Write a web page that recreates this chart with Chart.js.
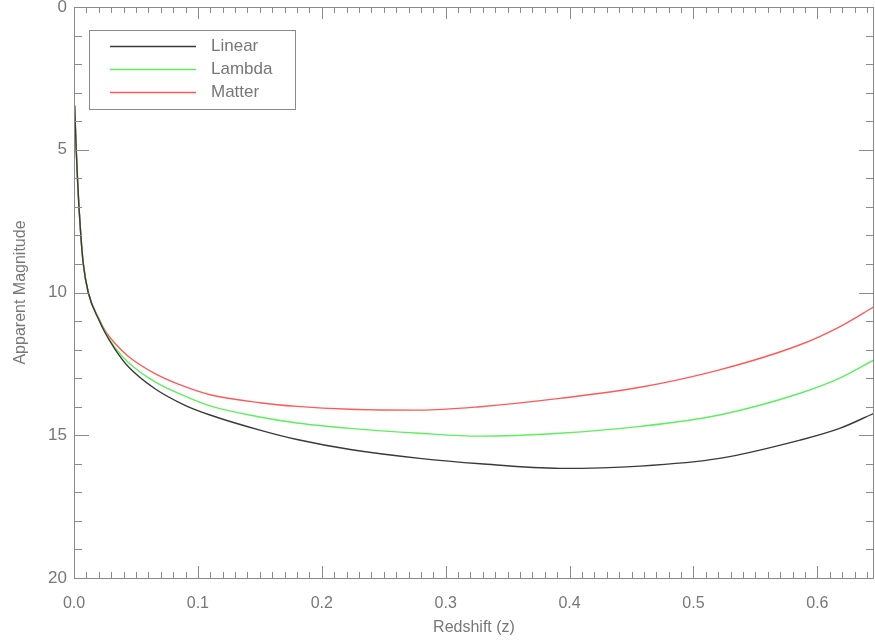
<!DOCTYPE html>
<html>
<head>
<meta charset="utf-8">
<title>Apparent Magnitude vs Redshift</title>
<script src="https://cdn.jsdelivr.net/npm/chart.js@4.4.1/dist/chart.umd.min.js"></script>
<style>
  html, body { margin: 0; padding: 0; background: #ffffff; }
  #wrap { width: 875px; height: 643px; }
</style>
</head>
<body>
<div id="wrap"><canvas id="magChart" width="875" height="643"></canvas></div>
<script>
// data
const redshift = [0.0005, 0.0018, 0.0028, 0.004, 0.0055, 0.0075, 0.0115, 0.0205, 0.025, 0.033,
                  0.0439, 0.0654, 0.0896, 0.1098, 0.150, 0.180, 0.223, 0.279, 0.328, 0.392,
                  0.457, 0.521, 0.586, 0.618, 0.6457];
const linearMag = [3.45, 5.0, 6.0, 7.0, 8.0, 9.0, 10.0, 11.0, 11.4, 11.98,
                   12.6, 13.37, 13.95, 14.29, 14.82, 15.15, 15.5, 15.81, 16.0, 16.16,
                   16.08, 15.81, 15.17, 14.76, 14.23];
const lambdaMag = [3.45, 5.0, 6.0, 7.0, 8.0, 9.0, 10.0, 10.98, 11.37, 11.92,
                   12.45, 13.13, 13.63, 13.97, 14.36, 14.57, 14.76, 14.93, 15.03, 14.93,
                   14.69, 14.29, 13.53, 13.0, 12.36];
const matterMag = [3.45, 5.0, 6.0, 7.0, 8.0, 9.0, 10.0, 10.95, 11.33, 11.78,
                   12.24, 12.84, 13.3, 13.58, 13.86, 13.99, 14.09, 14.12, 14.0, 13.71,
                   13.32, 12.71, 11.83, 11.2, 10.5];
const seriesNames = ['Linear', 'Lambda', 'Matter'];
const xTicks = [0.0, 0.1, 0.2, 0.3, 0.4, 0.5, 0.6];
const yTicks = [0, 5, 10, 15, 20];

const axisColor = '#8a8a8a';
const textColor = '#777777';
const fontFamily = "'Liberation Sans', 'DejaVu Sans', sans-serif";
const lineColors = ['#3a3a3a', '#5cf05c', '#ff5a5a'];

function toPoints(ys) {
    return redshift.map((z, i) => ({ x: z, y: ys[i] }));
}

// IDL style frame: box round the plot with ticks pointing inward
const insideTicks = {
    id: 'insideTicks',
    afterDraw(chart) {
        const { ctx, chartArea: a, scales: { x, y } } = chart;
        ctx.save();
        ctx.strokeStyle = axisColor;
        ctx.lineWidth = 1;
        ctx.strokeRect(a.left + 0.5, a.top + 0.5, a.right - a.left - 1, a.bottom - a.top);

        ctx.beginPath();
        // x minor every 0.01, major every 0.1
        for (let i = 0; i <= 64; i++) {
            const px = Math.round(x.getPixelForValue(i / 100)) + 0.5;
            const len = i % 10 === 0 ? 12 : 6;
            ctx.moveTo(px, a.bottom); ctx.lineTo(px, a.bottom - len);
            ctx.moveTo(px, a.top); ctx.lineTo(px, a.top + len);
        }
        // y minor every 1, major every 5
        for (let j = 0; j <= 20; j++) {
            const py = Math.round(y.getPixelForValue(j)) + 0.5;
            const len = j % 5 === 0 ? 15 : 8;
            ctx.moveTo(a.left, py); ctx.lineTo(a.left + len, py);
            ctx.moveTo(a.right, py); ctx.lineTo(a.right - len, py);
        }
        ctx.stroke();
        ctx.restore();
    }
};

// legend box in the top-left corner of the plot
const boxLegend = {
    id: 'boxLegend',
    afterDraw(chart) {
        const ctx = chart.ctx;
        ctx.save();
        ctx.fillStyle = '#ffffff';
        ctx.fillRect(89, 30, 206, 79);
        ctx.strokeStyle = axisColor;
        ctx.lineWidth = 1;
        ctx.strokeRect(89.5, 30.5, 206, 79);
        ctx.font = '17px ' + fontFamily;
        ctx.textBaseline = 'middle';
        chart.data.datasets.forEach((ds, i) => {
            const yy = 46.5 + i * 23;
            ctx.strokeStyle = ds.borderColor;
            ctx.lineWidth = 1.3;
            ctx.beginPath();
            ctx.moveTo(110, yy);
            ctx.lineTo(196, yy);
            ctx.stroke();
            ctx.fillStyle = textColor;
            ctx.fillText(ds.label, 211, yy);
        });
        ctx.restore();
    }
};

new Chart(document.getElementById('magChart'), {
    type: 'line',
    data: {
        datasets: [
            { label: seriesNames[0], data: toPoints(linearMag), borderColor: lineColors[0] },
            { label: seriesNames[1], data: toPoints(lambdaMag), borderColor: lineColors[1] },
            { label: seriesNames[2], data: toPoints(matterMag), borderColor: lineColors[2] }
        ]
    },
    options: {
        responsive: false,
        animation: false,
        layout: { padding: { top: 7, right: 1, left: 0, bottom: 0 } },
        elements: {
            line: { borderWidth: 1.4, cubicInterpolationMode: 'monotone', fill: false },
            point: { radius: 0, hoverRadius: 0 }
        },
        plugins: {
            legend: { display: false },
            tooltip: { enabled: false }
        },
        scales: {
            x: {
                type: 'linear',
                min: 0,
                max: 0.6457,
                afterBuildTicks: s => { s.ticks = xTicks.map(v => ({ value: v })); },
                afterFit: s => { s.height = 65; s.paddingLeft = 0; s.paddingRight = 0; },
                grid: { display: false, drawTicks: false },
                border: { display: false },
                ticks: {
                    color: textColor,
                    font: { family: fontFamily, size: 16 },
                    padding: 16,
                    maxRotation: 0,
                    callback: v => v.toFixed(1)
                },
                title: {
                    display: true,
                    text: 'Redshift (z)',
                    color: textColor,
                    font: { family: fontFamily, size: 16 },
                    padding: { top: 0, bottom: 6 }
                }
            },
            y: {
                type: 'linear',
                reverse: true,
                min: 0,
                max: 20,
                afterBuildTicks: s => { s.ticks = yTicks.map(v => ({ value: v })); },
                afterFit: s => { s.width = 74; s.paddingTop = 0; s.paddingBottom = 0; },
                grid: { display: false, drawTicks: false },
                border: { display: false },
                ticks: {
                    color: textColor,
                    font: { family: fontFamily, size: 17 },
                    padding: 7
                },
                title: {
                    display: true,
                    text: 'Apparent Magnitude',
                    color: textColor,
                    font: { family: fontFamily, size: 16 },
                    padding: { top: 11, bottom: 0 }
                }
            }
        }
    },
    plugins: [insideTicks, boxLegend]
});
</script>
</body>
</html>
